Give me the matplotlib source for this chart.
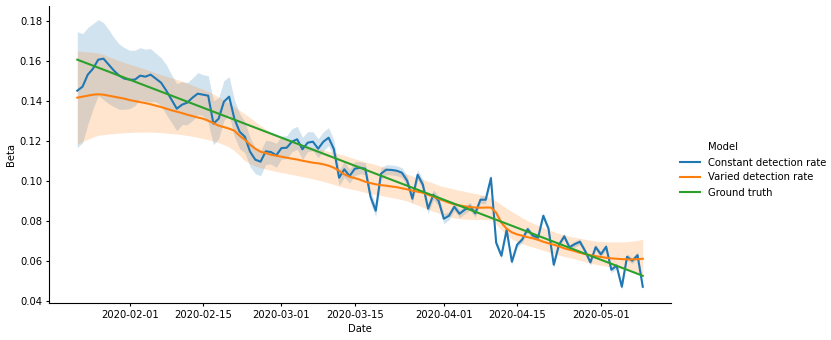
import matplotlib
matplotlib.use("Agg")
import matplotlib.pyplot as plt
import matplotlib.dates as mdates
from matplotlib.lines import Line2D
import numpy as np
import pandas as pd

# daily dates, 2020-01-22 .. 2020-05-09
dates = pd.date_range("2020-01-22", "2020-05-09", freq="D")

# Constant detection rate: mean and distance to band edges
constant_beta = [
    0.145, 0.147, 0.153, 0.156, 0.1605, 0.161, 0.158, 0.155, 0.1525, 0.151,
    0.1505, 0.1505, 0.1525, 0.152, 0.153, 0.151, 0.149, 0.145, 0.1405, 0.136,
    0.138, 0.139, 0.1415, 0.1435, 0.143, 0.1425, 0.1285, 0.131, 0.1395, 0.142,
    0.131, 0.1245, 0.122, 0.1145, 0.1105, 0.1095, 0.1147, 0.1143, 0.1127, 0.1163,
    0.1165, 0.1195, 0.1207, 0.1157, 0.119, 0.1195, 0.116, 0.1195, 0.1215, 0.1158,
    0.1015, 0.1057, 0.1023, 0.106, 0.1065, 0.106, 0.092, 0.085, 0.1035, 0.1055,
    0.1054, 0.105, 0.104, 0.100, 0.091, 0.103, 0.098, 0.086, 0.093, 0.090,
    0.081, 0.0825, 0.087, 0.0835, 0.0855, 0.0872, 0.0837, 0.0905, 0.0905, 0.1013,
    0.069, 0.0625, 0.0755, 0.0595, 0.068, 0.0707, 0.0758, 0.0725, 0.0715, 0.0825,
    0.076, 0.058, 0.068, 0.0722, 0.0667, 0.0683, 0.0695, 0.0648, 0.0592, 0.0668,
    0.0632, 0.067, 0.0555, 0.0575, 0.047, 0.062, 0.060, 0.0628, 0.047,
]
constant_up = [
    0.0295, 0.0265, 0.0235, 0.0225, 0.020, 0.018, 0.0175, 0.0165, 0.0158, 0.0155,
    0.0147, 0.0147, 0.014, 0.0137, 0.013, 0.0127, 0.0125, 0.013, 0.0125, 0.0125,
    0.0115, 0.010, 0.0098, 0.0105, 0.010, 0.010, 0.0115, 0.0105, 0.0105, 0.010,
    0.0095, 0.009, 0.0075, 0.007, 0.006, 0.0055, 0.0055, 0.0055, 0.006, 0.006,
    0.006, 0.0065, 0.0065, 0.006, 0.0055, 0.005, 0.005, 0.005, 0.005, 0.0045,
    0.004, 0.004, 0.0035, 0.0035, 0.003, 0.003, 0.003, 0.003, 0.003, 0.0025,
    0.0025, 0.0025, 0.0025, 0.0025, 0.0025, 0.0025, 0.0025, 0.0025, 0.0025, 0.0025,
    0.0025, 0.002, 0.002, 0.002, 0.002, 0.002, 0.002, 0.002, 0.002, 0.002,
    0.0015, 0.0015, 0.0015, 0.0015, 0.0015, 0.0015, 0.0015, 0.0015, 0.0015, 0.0015,
    0.0015, 0.0015, 0.0015, 0.0015, 0.0015, 0.0015, 0.0015, 0.0015, 0.0015, 0.0015,
    0.0015, 0.0015, 0.0015, 0.0015, 0.0015, 0.0015, 0.0015, 0.0015, 0.0015,
]
constant_down = [
    0.0285, 0.028, 0.025, 0.020, 0.018, 0.0205, 0.0195, 0.018, 0.0168, 0.0153,
    0.0145, 0.013, 0.012, 0.0123, 0.0135, 0.0115, 0.0115, 0.012, 0.0115, 0.011,
    0.010, 0.011, 0.0115, 0.0105, 0.0105, 0.0135, 0.0105, 0.010, 0.0095, 0.009,
    0.009, 0.0085, 0.008, 0.0075, 0.007, 0.007, 0.0065, 0.006, 0.006, 0.0055,
    0.0055, 0.005, 0.005, 0.005, 0.0045, 0.0045, 0.0045, 0.0045, 0.004, 0.004,
    0.004, 0.004, 0.0035, 0.0035, 0.003, 0.003, 0.003, 0.003, 0.003, 0.0025,
    0.0025, 0.0025, 0.0025, 0.0025, 0.0025, 0.0025, 0.0025, 0.0025, 0.0025, 0.0025,
    0.0025, 0.002, 0.002, 0.002, 0.002, 0.002, 0.002, 0.002, 0.002, 0.002,
    0.0015, 0.0015, 0.0015, 0.0015, 0.0015, 0.0015, 0.0015, 0.0015, 0.0015, 0.0015,
    0.0015, 0.0015, 0.0015, 0.0015, 0.0015, 0.0015, 0.0015, 0.0015, 0.0015, 0.0015,
    0.0015, 0.0015, 0.0015, 0.0015, 0.0015, 0.0015, 0.0015, 0.0015, 0.0015,
]

# Varied detection rate: mean, band low, band high
varied_beta = [
    0.1415, 0.1420, 0.1425, 0.1430, 0.1432, 0.1430, 0.1425, 0.1420, 0.1415, 0.1410,
    0.1403, 0.1398, 0.1393, 0.1388, 0.1382, 0.1375, 0.1368, 0.1360, 0.1352, 0.1345,
    0.1338, 0.1330, 0.1323, 0.1316, 0.1310, 0.1300, 0.1288, 0.1275, 0.1268, 0.1260,
    0.1250, 0.1225, 0.1205, 0.1180, 0.1160, 0.1145, 0.1138, 0.1130, 0.1125, 0.1120,
    0.1115, 0.1110, 0.1106, 0.1100, 0.1095, 0.1090, 0.1087, 0.1082, 0.1075, 0.1065,
    0.1050, 0.1032, 0.1020, 0.1013, 0.1005, 0.0995, 0.0988, 0.0982, 0.0978, 0.0975,
    0.0971, 0.0968, 0.0962, 0.0957, 0.0950, 0.0945, 0.0940, 0.0930, 0.0920, 0.0910,
    0.0900, 0.0890, 0.0882, 0.0877, 0.0872, 0.0868, 0.0866, 0.0865, 0.0866, 0.0866,
    0.0840, 0.0790, 0.0760, 0.0742, 0.0732, 0.0725, 0.0718, 0.0712, 0.0705, 0.0695,
    0.0687, 0.0680, 0.0672, 0.0662, 0.0655, 0.0648, 0.0640, 0.0633, 0.0628, 0.0623,
    0.0619, 0.0615, 0.0612, 0.0610, 0.0608, 0.0607, 0.0607, 0.0608, 0.0610,
]
varied_lo = [
    0.1182, 0.1195, 0.1207, 0.1218, 0.1227, 0.1230, 0.1233, 0.1236, 0.1238, 0.1240,
    0.1241, 0.1242, 0.1243, 0.1243, 0.1243, 0.1242, 0.1240, 0.1238, 0.1235, 0.1233,
    0.1230, 0.1226, 0.1222, 0.1217, 0.1211, 0.1205, 0.1198, 0.1190, 0.1180, 0.1168,
    0.1150, 0.1125, 0.1100, 0.1085, 0.1073, 0.1065, 0.1058, 0.1052, 0.1046, 0.1041,
    0.1036, 0.1031, 0.1026, 0.1020, 0.1015, 0.1009, 0.1003, 0.0996, 0.0989, 0.0981,
    0.0973, 0.0966, 0.0960, 0.0954, 0.0948, 0.0942, 0.0936, 0.0931, 0.0926, 0.0921,
    0.0916, 0.0911, 0.0905, 0.0898, 0.0888, 0.0878, 0.0867, 0.0857, 0.0847, 0.0838,
    0.0830, 0.0822, 0.0813, 0.0810, 0.0808, 0.0807, 0.0806, 0.0806, 0.0806, 0.0805,
    0.0782, 0.0755, 0.0728, 0.0708, 0.0695, 0.0685, 0.0676, 0.0668, 0.0660, 0.0652,
    0.0644, 0.0636, 0.0628, 0.0621, 0.0615, 0.0609, 0.0602, 0.0595, 0.0588, 0.0582,
    0.0577, 0.0573, 0.0569, 0.0565, 0.0561, 0.0556, 0.0549, 0.0542, 0.0535,
]
varied_hi = [
    0.1648, 0.1646, 0.1644, 0.1642, 0.1638, 0.1630, 0.1620, 0.1610, 0.1600, 0.1590,
    0.1582, 0.1574, 0.1566, 0.1557, 0.1548, 0.1539, 0.1530, 0.1522, 0.1514, 0.1506,
    0.1497, 0.1487, 0.1477, 0.1467, 0.1457, 0.1446, 0.1432, 0.1418, 0.1402, 0.1387,
    0.1370, 0.1352, 0.1333, 0.1315, 0.1295, 0.1275, 0.1258, 0.1242, 0.1228, 0.1218,
    0.1208, 0.1198, 0.1190, 0.1180, 0.1173, 0.1167, 0.1160, 0.1154, 0.1147, 0.1140,
    0.1133, 0.1126, 0.1118, 0.1110, 0.1102, 0.1094, 0.1087, 0.1080, 0.1072, 0.1064,
    0.1057, 0.1049, 0.1041, 0.1033, 0.1024, 0.1015, 0.1006, 0.0997, 0.0988, 0.0977,
    0.0970, 0.0964, 0.0957, 0.0952, 0.0947, 0.0941, 0.0936, 0.0930, 0.0924, 0.0912,
    0.0898, 0.0880, 0.0862, 0.0846, 0.0830, 0.0814, 0.0800, 0.0788, 0.0777, 0.0766,
    0.0755, 0.0745, 0.0736, 0.0729, 0.0723, 0.0717, 0.0712, 0.0707, 0.0702, 0.0698,
    0.0696, 0.0695, 0.0694, 0.0694, 0.0694, 0.0695, 0.0698, 0.0702, 0.0707,
]

# Ground truth is a straight line
truth_dates = pd.to_datetime(["2020-01-22", "2020-05-09"])
truth_beta = [0.1605, 0.0525]

labels = ["Constant detection rate", "Varied detection rate", "Ground truth"]
colors = ["#1f77b4", "#ff7f0e", "#2ca02c"]
tick_dates = ["2020-02-01", "2020-02-15", "2020-03-01", "2020-03-15",
              "2020-04-01", "2020-04-15", "2020-05-01"]

plt.rcParams["font.size"] = 7.2
plt.rcParams["xtick.major.size"] = 2.5
plt.rcParams["ytick.major.size"] = 2.5
plt.rcParams["xtick.major.pad"] = 2.5
plt.rcParams["ytick.major.pad"] = 2.5
plt.rcParams["axes.labelpad"] = 3

fig = plt.figure(figsize=(8.31, 3.4), dpi=100)
ax = fig.add_axes([0.059, 0.108, 0.7485, 0.874])

cb = np.array(constant_beta)
ax.fill_between(dates, cb - np.array(constant_down), cb + np.array(constant_up),
                color=colors[0], alpha=0.2, linewidth=0)
ax.fill_between(dates, varied_lo, varied_hi, color=colors[1], alpha=0.2, linewidth=0)
ax.plot(dates, constant_beta, color=colors[0], lw=1.5)
ax.plot(dates, varied_beta, color=colors[1], lw=1.5)
ax.plot(truth_dates, truth_beta, color=colors[2], lw=1.5)

ax.set_yticks(np.arange(0.04, 0.181, 0.02))
ax.yaxis.set_major_formatter(matplotlib.ticker.FormatStrFormatter("%.2f"))
ax.set_xticks(pd.to_datetime(tick_dates))
ax.xaxis.set_major_formatter(mdates.DateFormatter("%Y-%m-%d"))
ax.set_xlabel("Date")
ax.set_ylabel("Beta")
ax.spines["top"].set_visible(False)
ax.spines["right"].set_visible(False)

handles = [Line2D([], [], color="none")] + [Line2D([], [], color=c, lw=1.5) for c in colors]
fig.legend(handles, ["Model"] + labels, loc="center left",
           bbox_to_anchor=(0.808, 0.5), frameon=False)

fig.savefig("out.png", dpi=100)
